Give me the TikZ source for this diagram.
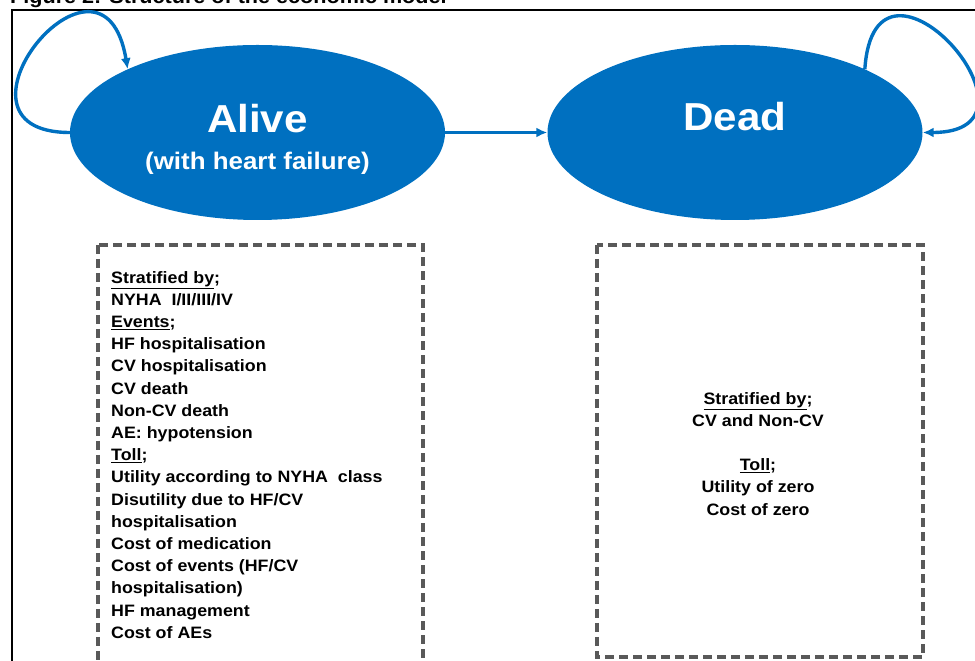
\documentclass[tikz,border=0pt]{standalone}
\usepackage{fontspec}
\setmainfont{Liberation Sans}[FakeStretch=1.08]
\usetikzlibrary{arrows.meta,shapes.geometric}
\definecolor{azul}{HTML}{0070C0}
\definecolor{gris}{HTML}{595959}

\begin{document}
\begin{tikzpicture}[x=1pt,y=1pt,
    estado/.style={ellipse,fill=azul,draw=none,minimum width=375pt,minimum height=175pt,inner sep=0pt},
    etiq/.style={white,inner sep=0pt,anchor=base},
    flecha/.style={azul,line width=3.4pt,-{Latex[length=11pt,width=10pt]}},
    caja/.style={gris,line width=3.4pt,dash pattern=on 9pt off 5pt},
    texto/.style={inner sep=0pt,font=\bfseries\fontsize{16.5}{22.2}\selectfont}]
    % ---- Marco ----
    \useasboundingbox (0,0) rectangle (975,661);
    \clip (0,0) rectangle (975,661);
    \node[anchor=base west,inner sep=0pt,font=\bfseries\fontsize{20}{24}\selectfont] (titulo) at (10,657) {Figure 2: Structure of the economic model};
    \draw[black,line width=2.4pt] (12,-10) -- (12,651) -- (990,651);

    % ---- Cajas punteadas ----
    \draw[caja] (98,416) rectangle (423,-20);
    \draw[caja] (597,416) rectangle (923,4);

    % ---- Estados ----
    \node[estado] (vivo) at (257.5,528.5) {};
    \node[estado] (muerto) at (735,528.5) {};
    \node[etiq,font=\bfseries\fontsize{39}{44}\selectfont] (vivolab) at (257.5,528) {Alive};
    \node[etiq,font=\bfseries\fontsize{24}{28}\selectfont] (vivosub) at (257.5,491) {(with heart failure)};
    \node[etiq,font=\bfseries\fontsize{39}{44}\selectfont] (muertolab) at (735,530) {Dead};

    % ---- Transiciones ----
    \draw[flecha] (vivo.east) -- (muerto.west);
    \draw[flecha] (vivo.west) .. controls +(-140,0) and +(-25,150) .. (vivo.154);
    \draw[flecha] (muerto.26) .. controls +(10,150) and +(140,0) .. (muerto.east);

    % ---- Textos de las cajas ----
    \node[texto,align=left,anchor=north west] (textovivo) at (111,390)
        {\underline{Stratified by};\\
         NYHA\ \ I/II/III/IV\\
         \underline{Events};\\
         HF hospitalisation\\
         CV hospitalisation\\
         CV death\\
         Non-CV death\\
         AE: hypotension\\
         \underline{Toll};\\
         Utility according to NYHA\ \ class\\
         Disutility due to HF/CV\\
         hospitalisation\\
         Cost of medication\\
         Cost of events (HF/CV\\
         hospitalisation)\\
         HF management\\
         Cost of AEs};
    \node[texto,align=center,anchor=north] (textomuerto) at (758,269)
        {\underline{Stratified by};\\
         CV and Non-CV\\[22.2pt]
         \underline{Toll};\\
         Utility of zero\\
         Cost of zero};
\end{tikzpicture}
\end{document}
